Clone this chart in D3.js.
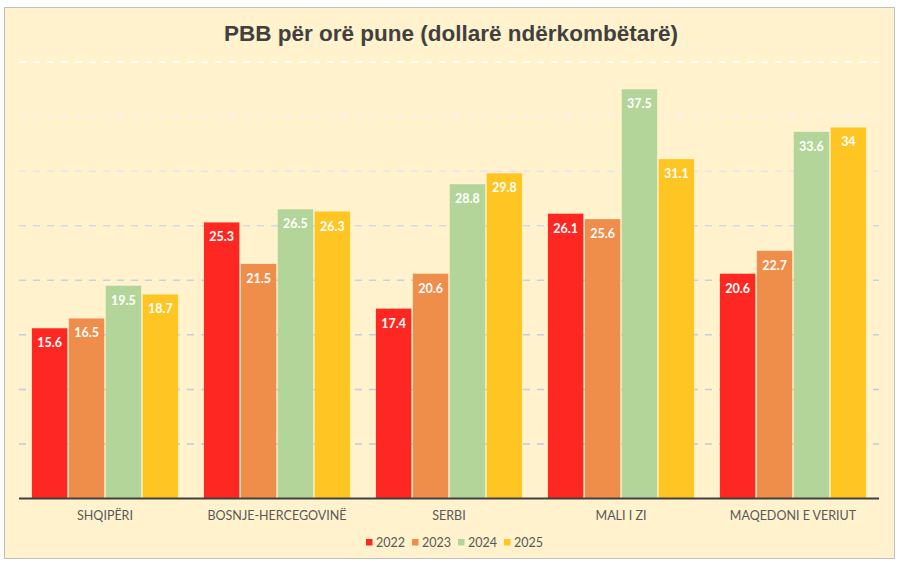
<!DOCTYPE html>
<html>
<head>
<meta charset="utf-8">
<script src="https://cdn.jsdelivr.net/npm/d3@7"></script>
<style>
    body { margin: 0; background: #ffffff; }
    .catLabel { font-family: Lato, "Open Sans", sans-serif; font-size: 12.5px; fill: #595959; }
    .valLabel { font-family: Lato, "Open Sans", sans-serif; font-size: 12.5px; font-weight: bold; fill: #ffffff; }
    .legendText { font-family: Lato, "Open Sans", sans-serif; font-size: 12.5px; fill: #595959; }
</style>
</head>
<body>
<script>
//chart data
var countries = ["SHQIPËRI", "BOSNJE-HERCEGOVINË", "SERBI", "MALI I ZI", "MAQEDONI E VERIUT"];
var years = ["2022", "2023", "2024", "2025"];
var v2022 = [15.6, 25.3, 17.4, 26.1, 20.6];
var v2023 = [16.5, 21.5, 20.6, 25.6, 22.7];
var v2024 = [19.5, 26.5, 28.8, 37.5, 33.6];
var v2025 = [18.7, 26.3, 29.8, 31.1, 34];
var yTicks = [0, 5, 10, 15, 20, 25, 30, 35, 40];
var colors = ["#ff2722", "#ef8d4a", "#b3d599", "#ffc522"];

window.onload = setChart();

function setChart(){
    var width = 903,
        height = 568;

    var svg = d3.select("body")
        .append("svg")
        .attr("width", width)
        .attr("height", height);

    //chart frame
    svg.append("rect")
        .attr("x", 4.5)
        .attr("y", 7.5)
        .attr("width", 890)
        .attr("height", 551)
        .attr("fill", "#fff2cc")
        .attr("stroke", "#bfbfbf")
        .attr("stroke-width", 1);

    //title
    svg.append("text")
        .attr("x", 451)
        .attr("y", 41)
        .attr("text-anchor", "middle")
        .style("font-family", "'Liberation Sans', Arial, sans-serif")
        .style("font-size", "22.5px")
        .style("font-weight", "bold")
        .style("fill", "#404040")
        .text("PBB për orë pune (dollarë ndërkombëtarë)");

    var x0 = d3.scaleBand()
        .domain(countries)
        .range([19, 879])
        .paddingInner(0.15)
        .paddingOuter(0.075);

    var x1 = d3.scaleBand()
        .domain(years)
        .range([0, x0.bandwidth()])
        .paddingInner(0.04);

    var y = d3.scaleLinear()
        .domain([0, 40])
        .range([498.5, 62]);

    //gridlines fade toward the top
    var grad = svg.append("defs").append("linearGradient")
        .attr("id", "gridFade")
        .attr("gradientUnits", "userSpaceOnUse")
        .attr("x1", 0).attr("y1", y(0))
        .attr("x2", 0).attr("y2", y(40));
    grad.append("stop").attr("offset", "0").attr("stop-color", "#b8c8dc");
    grad.append("stop").attr("offset", "0.55").attr("stop-color", "#c6d3e2");
    grad.append("stop").attr("offset", "1").attr("stop-color", "#ffffff");

    svg.selectAll(".gridLine")
        .data(yTicks.slice(1))
        .enter()
        .append("line")
        .attr("class", "gridLine")
        .attr("x1", 19)
        .attr("x2", 879)
        .attr("y1", function(d){ return y(d); })
        .attr("y2", function(d){ return y(d); })
        .attr("stroke", "url(#gridFade)")
        .attr("stroke-width", 1.5)
        .attr("stroke-dasharray", "7,7");

    var series = [v2022, v2023, v2024, v2025];
    var rows = [];
    countries.forEach(function(c, i){
        years.forEach(function(yr, j){
            rows.push({country: c, year: yr, value: series[j][i], idx: j});
        });
    });

    var bars = svg.selectAll(".bar")
        .data(rows)
        .enter()
        .append("g")
        .attr("class", "bar");

    bars.append("rect")
        .attr("x", function(d){ return x0(d.country) + x1(d.year); })
        .attr("y", function(d){ return y(d.value); })
        .attr("width", x1.bandwidth())
        .attr("height", function(d){ return y(0) - y(d.value); })
        .attr("fill", function(d){ return colors[d.idx]; });

    bars.append("text")
        .attr("class", "valLabel")
        .attr("x", function(d){ return x0(d.country) + x1(d.year) + x1.bandwidth() / 2; })
        .attr("y", function(d){ return y(d.value) + 19; })
        .attr("text-anchor", "middle")
        .text(function(d){ return d.value; });

    //baseline
    svg.append("line")
        .attr("x1", 19)
        .attr("x2", 879)
        .attr("y1", y(0))
        .attr("y2", y(0))
        .attr("stroke", "#404040")
        .attr("stroke-width", 2);

    //category labels
    svg.selectAll(".catLabel")
        .data(countries)
        .enter()
        .append("text")
        .attr("class", "catLabel")
        .attr("x", function(d){ return x0(d) + x0.bandwidth() / 2; })
        .attr("y", 520)
        .attr("text-anchor", "middle")
        .text(function(d){ return d; });

    //legend
    var legend = svg.selectAll(".legendItem")
        .data(years)
        .enter()
        .append("g")
        .attr("class", "legendItem")
        .attr("transform", function(d, i){ return "translate(" + (366 + i * 46) + ",539)"; });

    legend.append("rect")
        .attr("width", 6.5)
        .attr("height", 6.5)
        .attr("fill", function(d, i){ return colors[i]; });

    legend.append("text")
        .attr("class", "legendText")
        .attr("x", 10)
        .attr("y", 7.5)
        .text(function(d){ return d; });
};
</script>
</body>
</html>
